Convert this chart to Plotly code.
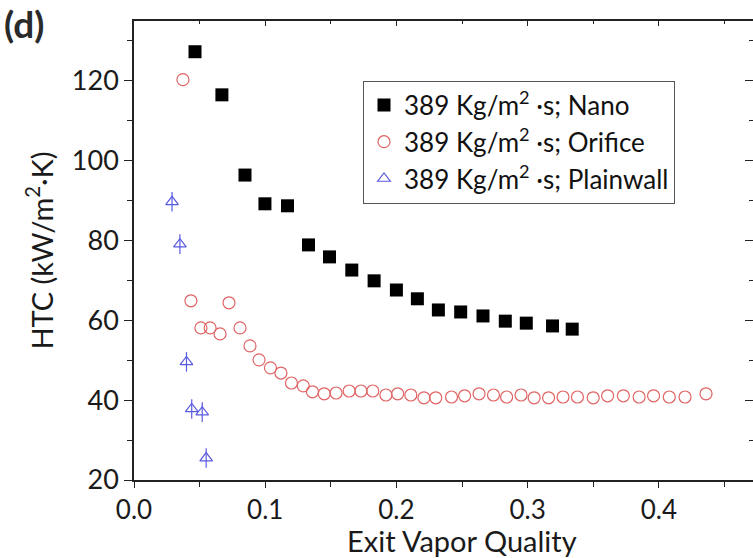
import plotly.graph_objects as go

# ---- data ----
nano_x = [0.0465, 0.067, 0.0846, 0.0998, 0.117, 0.133, 0.149, 0.166, 0.183, 0.200,
          0.216, 0.232, 0.249, 0.266, 0.283, 0.299, 0.319, 0.334]
nano_y = [127.3, 116.5, 96.4, 89.2, 88.7, 78.9, 75.9, 72.6, 69.9, 67.6,
          65.4, 62.6, 62.1, 61.1, 59.8, 59.3, 58.6, 57.8]

orif_x = [0.0373, 0.0434, 0.051, 0.058, 0.0656, 0.0724, 0.0808, 0.0884, 0.0953, 0.104,
          0.112, 0.120, 0.129, 0.136, 0.145, 0.154, 0.164, 0.173, 0.182, 0.192,
          0.201, 0.211, 0.221, 0.230, 0.242, 0.252, 0.263, 0.274, 0.284, 0.295,
          0.305, 0.316, 0.327, 0.338, 0.350, 0.361, 0.373, 0.385, 0.396, 0.408,
          0.420, 0.436]
orif_y = [120.3, 64.9, 58.1, 58.1, 56.6, 64.4, 58.1, 53.6, 50.1, 48.1,
          46.8, 44.3, 43.6, 42.1, 41.6, 41.8, 42.3, 42.3, 42.3, 41.3,
          41.6, 41.3, 40.6, 40.6, 40.8, 41.1, 41.6, 41.3, 40.8, 41.3,
          40.6, 40.6, 40.8, 40.8, 40.6, 41.1, 41.1, 40.8, 41.1, 40.8,
          40.8, 41.6]

plain_x = [0.029, 0.035, 0.040, 0.044, 0.052, 0.055]
plain_y = [89.7, 79.1, 49.6, 37.8, 37.0, 25.5]

series_names = ["389 Kg/m<sup>2</sup> ·s; Nano",
                "389 Kg/m<sup>2</sup> ·s; Orifice",
                "389 Kg/m<sup>2</sup> ·s; Plainwall"]

x_range = [0, 0.4718]
y_range = [20, 135]

FONT = "Lato"
AX = "#222222"
PW = 619.0   # plot width px
PH = 459.0   # plot height px

fig = go.Figure()
fig.add_trace(go.Scatter(
    x=nano_x, y=nano_y, mode="markers", name=series_names[0],
    marker=dict(symbol="square", size=13, color="black")))
fig.add_trace(go.Scatter(
    x=orif_x, y=orif_y, mode="markers", name=series_names[1],
    marker=dict(symbol="circle-open", size=12, color="#e06464", line=dict(width=1.2))))
fig.add_trace(go.Scatter(
    x=plain_x, y=plain_y, mode="markers", name=series_names[2],
    marker=dict(symbol="triangle-up-open", size=11, color="#5a5ae0", line=dict(width=1.2))))
fig.add_trace(go.Scatter(
    x=plain_x, y=plain_y, mode="markers", showlegend=False, hoverinfo="skip",
    marker=dict(symbol="line-ns-open", size=14, color="#5a5ae0", line=dict(width=1.2))))
# empty trace to activate mirror axes
fig.add_trace(go.Scatter(x=[], y=[], xaxis="x2", yaxis="y2", showlegend=False))

fig.update_layout(
    width=753, height=558,
    margin=dict(l=134, r=0, t=21, b=78),
    paper_bgcolor="white", plot_bgcolor="white",
    font=dict(family=FONT, size=27, color="#1a1a1a"),
    showlegend=True,
    legend=dict(x=(363 - 134) / PW, y=(480 - 142) / PH, xanchor="left", yanchor="middle",
                bgcolor="white", bordercolor="#555555", borderwidth=1,
                font=dict(family=FONT, size=26, color="#111111"),
                tracegroupgap=0),
    xaxis=dict(range=x_range, showline=True, linecolor=AX, linewidth=1.6,
               ticks="outside", ticklen=6, tickwidth=1.4, tickcolor=AX,
               dtick=0.1, tickformat=".1f", showgrid=False, zeroline=False,
               minor=dict(ticks="outside", dtick=0.05, ticklen=5, tickcolor=AX, tickwidth=1.2),
               tickfont=dict(size=26)),
    yaxis=dict(range=y_range, showline=True, linecolor=AX, linewidth=1.6,
               ticks="outside", ticklen=8, tickwidth=1.4, tickcolor=AX,
               dtick=20, showgrid=False, zeroline=False,
               minor=dict(ticks="outside", dtick=10, ticklen=5, tickcolor=AX, tickwidth=1.2),
               title=dict(text="HTC (kW/m<sup>2</sup>·K)", standoff=10, font=dict(size=29)),
               tickfont=dict(size=27)),
    xaxis2=dict(range=x_range, overlaying="x", side="top", showline=True,
                linecolor=AX, linewidth=1.6, ticks="inside", ticklen=5, tickcolor=AX,
                dtick=0.1, showticklabels=False, showgrid=False, zeroline=False,
                minor=dict(ticks="inside", dtick=0.05, ticklen=3, tickcolor=AX)),
    yaxis2=dict(range=y_range, overlaying="y", side="right", showline=True,
                linecolor=AX, linewidth=1.6, ticks="inside", ticklen=8, tickcolor=AX,
                dtick=20, showticklabels=False, showgrid=False, zeroline=False,
                minor=dict(ticks="inside", dtick=10, ticklen=4, tickcolor=AX)),
    annotations=[
        dict(text="<b>(d)</b>", xref="paper", yref="paper",
             x=(2 - 134) / PW, y=(480 + 1) / PH, xanchor="left", yanchor="top",
             showarrow=False, font=dict(family=FONT, size=37, color="#2a2a2a")),
        dict(text="Exit Vapor Quality", xref="paper", yref="paper",
             x=(462 - 134) / PW, y=(480 - 559) / PH, xanchor="center", yanchor="bottom",
             showarrow=False, borderpad=0, font=dict(family=FONT, size=29, color="#1a1a1a")),
    ],
)

fig.write_html("out.html")
